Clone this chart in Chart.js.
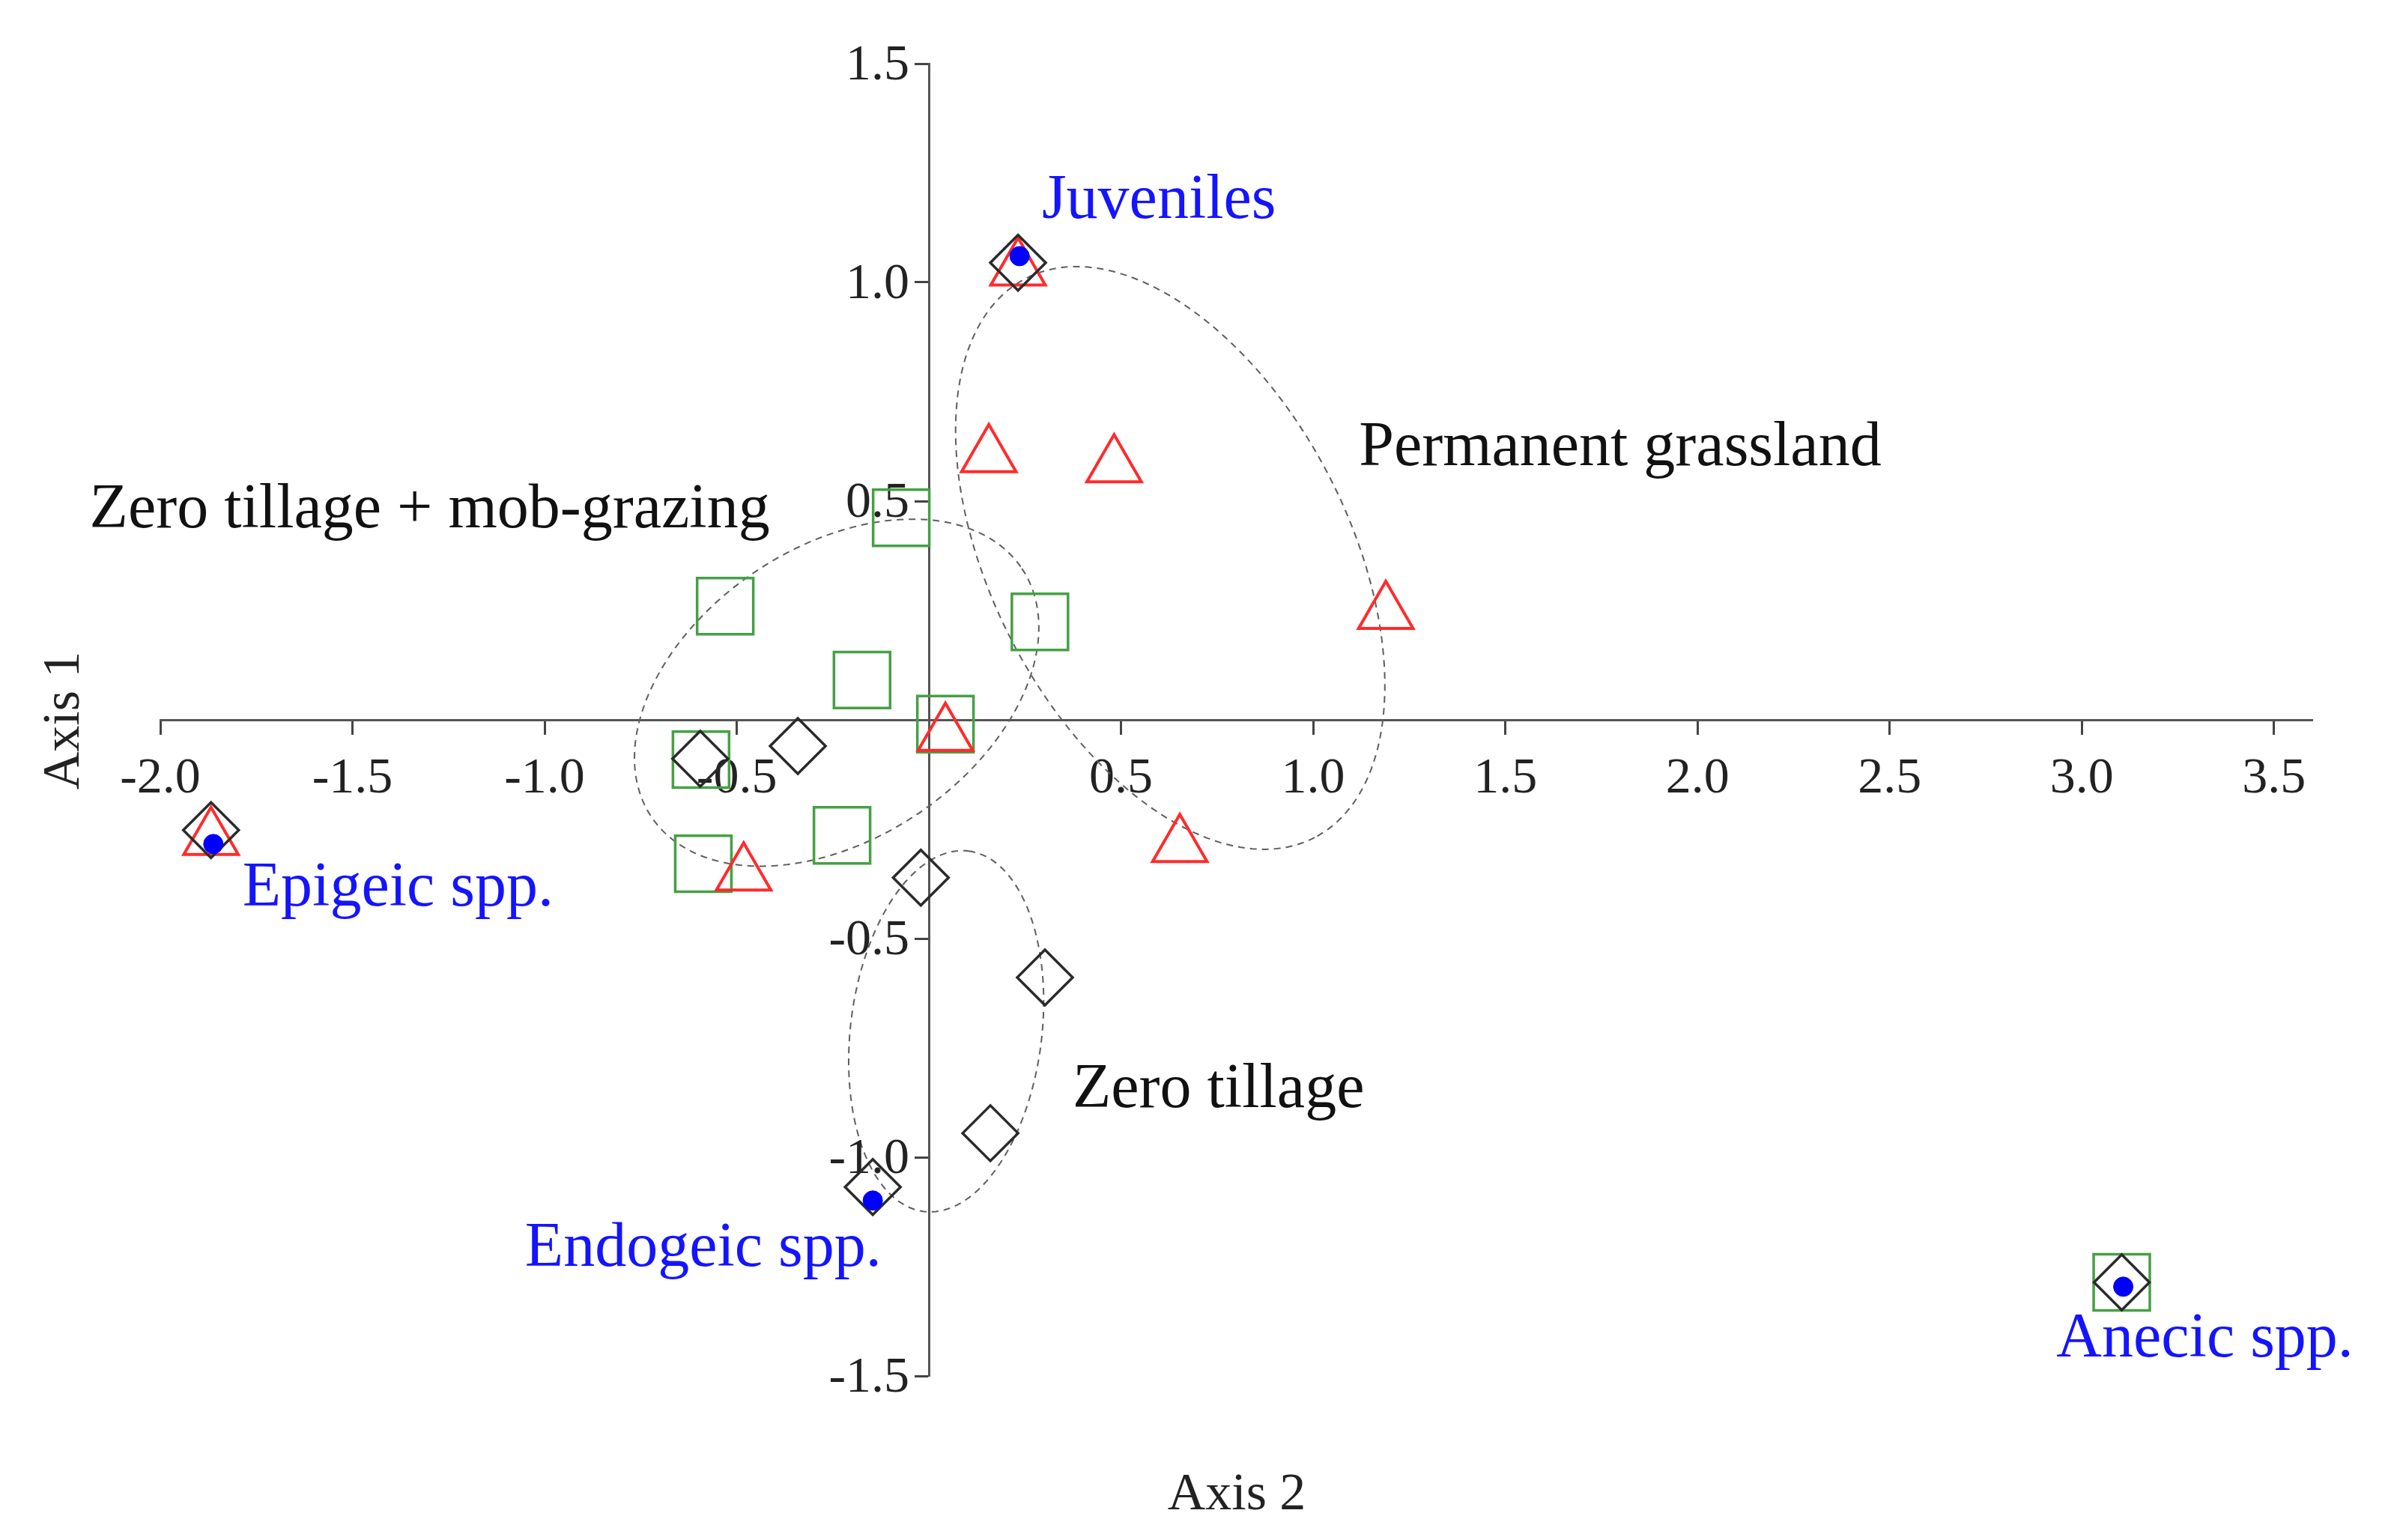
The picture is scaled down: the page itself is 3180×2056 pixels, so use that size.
<!DOCTYPE html>
<html>
<head>
<meta charset="utf-8">
<title>Earthworm ordination</title>
<script src="https://cdn.jsdelivr.net/npm/chart.js@4.4.1/dist/chart.umd.min.js"></script>
<style>
  html, body { margin: 0; padding: 0; background: #fff; }
  #wrap { width: 3180px; height: 2056px; }
</style>
</head>
<body>
<div id="wrap"><canvas id="myChart" width="3180" height="2056"></canvas></div>
<script>
// tick values (Axis 2 = horizontal, Axis 1 = vertical)
var xTicks = [-2.0, -1.5, -1.0, -0.5, 0.5, 1.0, 1.5, 2.0, 2.5, 3.0, 3.5];
var yTicks = [-1.5, -1.0, -0.5, 0.5, 1.0, 1.5];

// sample scores per treatment
var grassland = [
    {x: 0.232, y: 1.03}, {x: 0.156, y: 0.603}, {x: 0.482, y: 0.580}, {x: 1.189, y: 0.245},
    {x: 0.043, y: -0.034}, {x: 0.653, y: -0.288}, {x: -0.482, y: -0.353}, {x: -1.868, y: -0.272}
];
var mobGrazing = [
    {x: -0.072, y: 0.462}, {x: -0.530, y: 0.260}, {x: 0.289, y: 0.224}, {x: -0.174, y: 0.091},
    {x: 0.043, y: -0.010}, {x: -0.593, y: -0.091}, {x: -0.226, y: -0.264}, {x: -0.587, y: -0.329},
    {x: 3.104, y: -1.286}
];
var zeroTillage = [
    {x: 0.232, y: 1.045}, {x: -0.595, y: -0.089}, {x: -0.341, y: -0.060}, {x: -0.021, y: -0.361},
    {x: 0.302, y: -0.589}, {x: 0.160, y: -0.945}, {x: -0.146, y: -1.068}, {x: -1.868, y: -0.252},
    {x: 3.104, y: -1.286}
];

// species (ecological groups) scores
var species = ['Juveniles', 'Epigeic spp.', 'Endogeic spp.', 'Anecic spp.'];
var speciesX = [0.236, -1.862, -0.146, 3.108];
var speciesY = [1.060, -0.284, -1.099, -1.296];

// dashed group ellipses: centre + two conjugate semi-axes, data units
var ellipses = [
    {cx: 0.628, cy: 0.370, ux: 0.376, uy: -0.639, vx: -0.413, vy: -0.188},  // permanent grassland
    {cx: -0.240, cy: 0.062, ux: 0.482, uy: 0.284, vx: 0.211, vy: -0.277},   // zero tillage + mob-grazing
    {cx: 0.045, cy: -0.712, ux: 0.058, uy: 0.412, vx: 0.247, vy: -0.027}    // zero tillage
];

// text placed in the plot (left end of baseline, data units)
var notes = [
    {text: 'Juveniles', x: 0.294, y: 1.147, color: '#1414ff'},
    {text: 'Epigeic spp.', x: -1.786, y: -0.425, color: '#1414ff'},
    {text: 'Endogeic spp.', x: -1.051, y: -1.248, color: '#1414ff'},
    {text: 'Anecic spp.', x: 2.934, y: -1.455, color: '#1414ff'},
    {text: 'Permanent grassland', x: 1.119, y: 0.582, color: '#111'},
    {text: 'Zero tillage + mob-grazing', x: -2.184, y: 0.440, color: '#111'},
    {text: 'Zero tillage', x: 0.374, y: -0.885, color: '#111'}
];

var serif = "'Liberation Serif', 'DejaVu Serif', serif";

var extras = {
    id: 'extras',
    beforeDatasetsDraw: function(chart) {
        var ctx = chart.ctx, xs = chart.scales.x, ys = chart.scales.y;
        ctx.save();
        // ellipses
        ctx.strokeStyle = '#5e5e5e';
        ctx.lineWidth = 2;
        ctx.setLineDash([9, 7]);
        ellipses.forEach(function(e) {
            ctx.beginPath();
            for (var i = 0; i <= 200; i++) {
                var t = i / 200 * 2 * Math.PI;
                var px = xs.getPixelForValue(e.cx + Math.cos(t) * e.ux + Math.sin(t) * e.vx);
                var py = ys.getPixelForValue(e.cy + Math.cos(t) * e.uy + Math.sin(t) * e.vy);
                if (i === 0) ctx.moveTo(px, py); else ctx.lineTo(px, py);
            }
            ctx.closePath();
            ctx.stroke();
        });
        ctx.setLineDash([]);
        // y tick labels, left of the tick marks
        var x0 = xs.getPixelForValue(0);
        ctx.font = '68px ' + serif;
        ctx.fillStyle = '#222';
        ctx.textAlign = 'right';
        ctx.textBaseline = 'middle';
        yTicks.forEach(function(v) {
            ctx.fillText(v.toFixed(1), x0 - 26, ys.getPixelForValue(v) + 3);
        });
        // axis titles
        ctx.font = '70px ' + serif;
        ctx.textAlign = 'center';
        ctx.textBaseline = 'alphabetic';
        ctx.fillText('Axis 2', 1651, 2015);
        ctx.translate(105, 962);
        ctx.rotate(-Math.PI / 2);
        ctx.fillText('Axis 1', 0, 0);
        ctx.restore();
    },
    afterDatasetsDraw: function(chart) {
        var ctx = chart.ctx, xs = chart.scales.x, ys = chart.scales.y;
        ctx.save();
        ctx.font = '84px ' + serif;
        ctx.textAlign = 'left';
        ctx.textBaseline = 'alphabetic';
        notes.forEach(function(n) {
            ctx.fillStyle = n.color;
            ctx.fillText(n.text, xs.getPixelForValue(n.x), ys.getPixelForValue(n.y));
        });
        ctx.restore();
    }
};

var config = {
    type: 'scatter',
    data: {
        datasets: [{
            label: 'Species',
            data: speciesX.map(function(v, i) { return {x: v, y: speciesY[i]}; }),
            pointStyle: 'circle',
            pointRadius: 13,
            backgroundColor: '#0000ff',
            borderColor: '#0000ff',
            borderWidth: 1,
            order: 0
        }, {
            label: 'Zero tillage',
            data: zeroTillage,
            pointStyle: 'rectRot',
            pointRadius: 37,
            backgroundColor: 'rgba(0,0,0,0)',
            borderColor: '#2a2a2a',
            borderWidth: 3.5,
            order: 1
        }, {
            label: 'Permanent grassland',
            data: grassland,
            pointStyle: 'triangle',
            pointRadius: 42,
            backgroundColor: 'rgba(0,0,0,0)',
            borderColor: '#ff2b2b',
            borderWidth: 4,
            order: 2
        }, {
            label: 'Zero tillage + mob-grazing',
            data: mobGrazing,
            pointStyle: 'rect',
            pointRadius: 53,
            backgroundColor: 'rgba(0,0,0,0)',
            borderColor: '#45a045',
            borderWidth: 3.5,
            order: 3
        }]
    },
    options: {
        responsive: false,
        animation: false,
        layout: {
            padding: {left: 214, right: 93, top: 85, bottom: 219}
        },
        plugins: {
            legend: {display: false},
            tooltip: {enabled: false}
        },
        scales: {
            x: {
                type: 'linear',
                min: -2.0,
                max: 3.6,
                position: {y: 0},
                afterBuildTicks: function(s) { s.ticks = xTicks.map(function(v) { return {value: v}; }); },
                afterFit: function(s) { s.height = 0; },
                grid: {drawOnChartArea: false, drawTicks: true, tickLength: 18, tickWidth: 3, tickColor: '#444'},
                border: {display: true, color: '#555', width: 3},
                ticks: {
                    autoSkip: false,
                    maxRotation: 0,
                    padding: 20,
                    color: '#222',
                    font: {family: serif, size: 68},
                    callback: function(v) { return v.toFixed(1); }
                }
            },
            y: {
                type: 'linear',
                min: -1.5,
                max: 1.5,
                position: {x: 0},
                afterBuildTicks: function(s) { s.ticks = yTicks.map(function(v) { return {value: v}; }); },
                afterFit: function(s) { s.width = 0; },
                grid: {drawOnChartArea: false, drawTicks: true, tickLength: 18, tickWidth: 3, tickColor: '#444'},
                border: {display: true, color: '#555', width: 3},
                ticks: {display: false}
            }
        }
    },
    plugins: [extras]
};

var ctx = document.getElementById('myChart').getContext('2d');
var chart = new Chart(ctx, config);
</script>
</body>
</html>
